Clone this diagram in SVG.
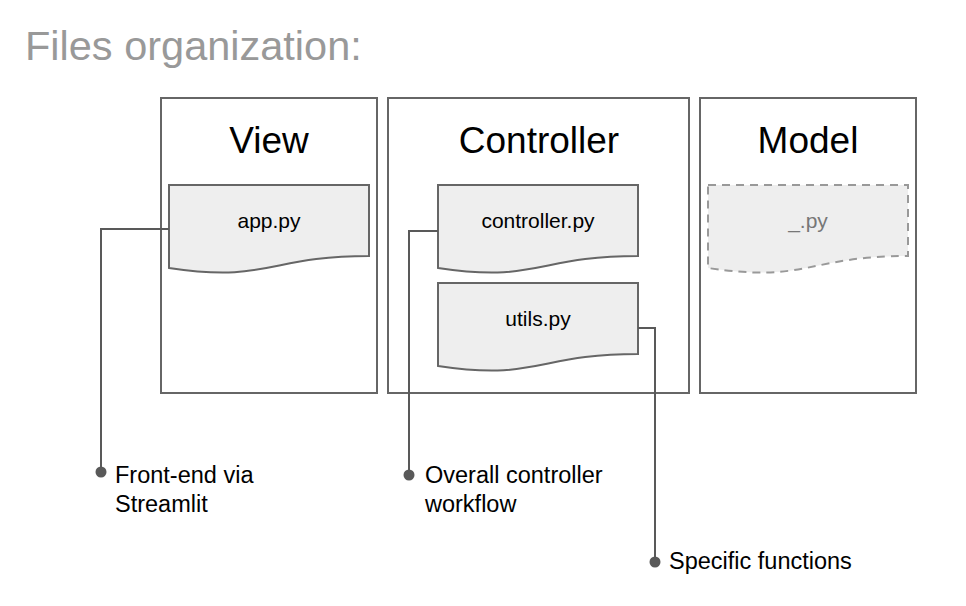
<svg xmlns="http://www.w3.org/2000/svg" width="966" height="606" viewBox="0 0 966 606">
<style>
text{font-family:"Liberation Sans",Arial,sans-serif}
.box{fill:#fff;stroke:#666;stroke-width:2}
.doc{fill:#eeeeee;stroke:#666;stroke-width:2}
.ghost{fill:#eeeeee;stroke:#999;stroke-width:2;stroke-dasharray:8,6}
.h{font-size:37px;fill:#000;text-anchor:middle}
.f{font-size:21px;fill:#000;text-anchor:middle}
.lbl{font-size:23.5px;fill:#000}
.wire{fill:none;stroke:#595959;stroke-width:2}
.dot{fill:#595959}
</style>
<rect width="966" height="606" fill="#fff"/>
<text x="25" y="60" style="font-size:41.5px;fill:#999">Files organization:</text>
<g id="view">
<rect class="box" x="161" y="98" width="216" height="295"/>
<text class="h" x="269" y="153">View</text>
</g>
<g id="controller">
<rect class="box" x="388" y="98" width="301" height="295"/>
<text class="h" x="539" y="153">Controller</text>
</g>
<g id="model">
<rect class="box" x="700" y="98" width="216" height="295"/>
<text class="h" x="808" y="153">Model</text>
</g>
<g id="app">
<path class="doc" d="M169,185 H369 V256 C269,256 269,283 169,268 Z"/>
<text class="f" x="269" y="228">app.py</text>
</g>
<g id="controllerpy">
<path class="doc" d="M438,185 H638 V256 C538,256 538,283 438,268 Z"/>
<text class="f" x="538" y="228">controller.py</text>
</g>
<g id="utils">
<path class="doc" d="M438,283 H638 V354 C538,354 538,381 438,366 Z"/>
<text class="f" x="538" y="326">utils.py</text>
</g>
<g id="modelpy">
<path class="ghost" d="M708,185 H908 V256 C808,256 808,283 708,268 Z"/>
<text class="f" x="808" y="228" style="fill:#777">_.py</text>
</g>
<g id="connectors">
<path class="wire" d="M169,229 H101 V472"/>
<circle class="dot" cx="101" cy="472" r="5.5"/>
<path class="wire" d="M438,231 H409 V475"/>
<circle class="dot" cx="409" cy="475" r="5.5"/>
<path class="wire" d="M638,328 H655 V562"/>
<circle class="dot" cx="655" cy="562" r="5.5"/>
</g>
<g id="label-frontend">
<text class="lbl" x="115" y="483">Front-end via</text>
<text class="lbl" x="115" y="512">Streamlit</text>
</g>
<g id="label-overall">
<text class="lbl" x="425" y="483">Overall controller</text>
<text class="lbl" x="425" y="512">workflow</text>
</g>
<g id="label-specific">
<text class="lbl" x="669" y="569">Specific functions</text>
</g>
</svg>
